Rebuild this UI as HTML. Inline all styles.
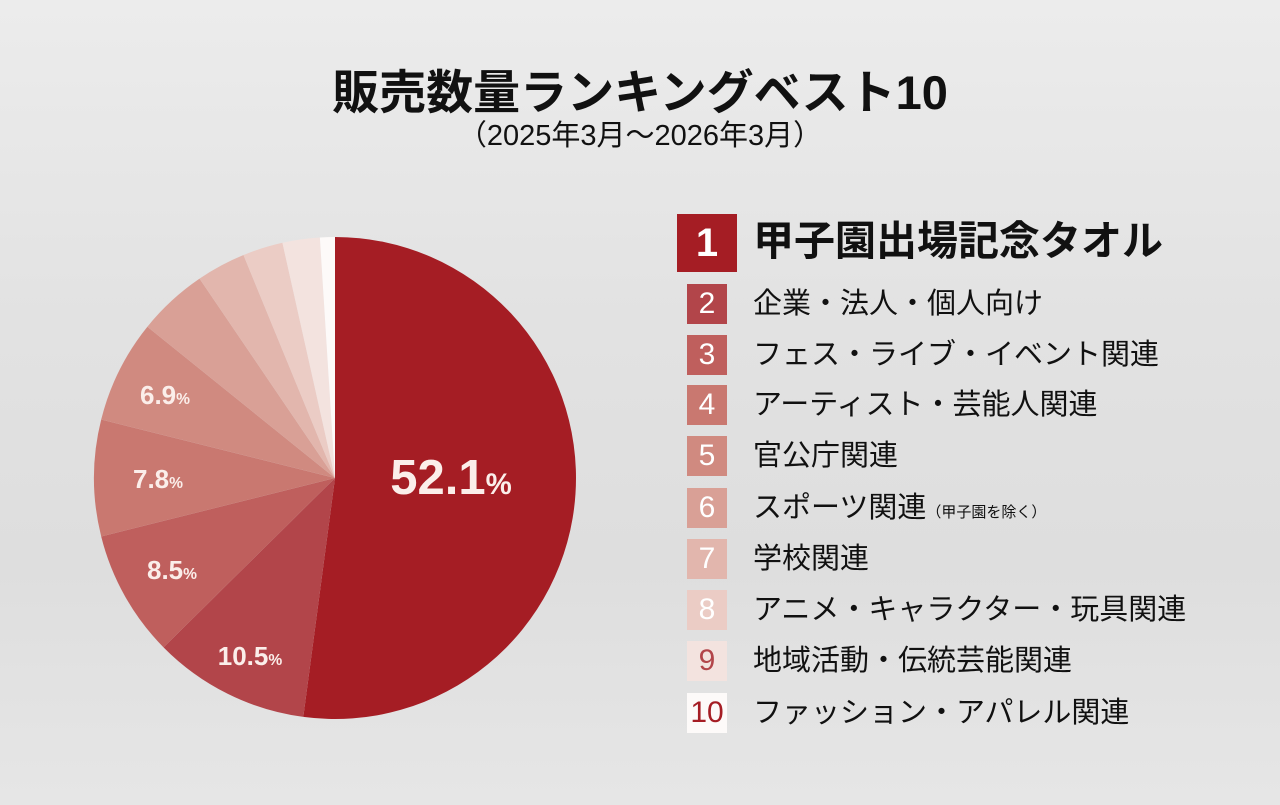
<!DOCTYPE html>
<html><head><meta charset="utf-8"><style>
body{margin:0;width:1280px;height:805px;overflow:hidden;font-family:"Liberation Sans","Noto Sans CJK JP",sans-serif;background:linear-gradient(180deg,#ececec 0%,#e2e2e2 40%,#dedede 70%,#e6e6e6 100%);position:relative}
.t{position:absolute;left:0;width:1280px;text-align:center;color:#111}
.box{position:absolute;left:687px;width:40px;height:40px;color:#fff;font-size:30px;text-align:center;line-height:40px}
.lab{position:absolute;left:753px;font-size:29px;color:#111;line-height:40px;white-space:nowrap}
</style></head><body>
<div class="t" style="top:54px;font-size:47px;font-weight:bold;left:0px">販売数量ランキングベスト10</div>
<div class="t" style="top:112px;font-size:29px;left:0px">（2025年3月～2026年3月）</div>
<svg id="pie" width="1280" height="805" style="position:absolute;left:0;top:0"></svg>
<div class="box" style="left:677px;top:214px;width:60px;height:58px;line-height:58px;background:#a51d24;font-size:40px;font-weight:bold">1</div>
<div class="lab" style="top:221px;font-size:41px;font-weight:bold">甲子園出場記念タオル</div>
<div class="box" style="top:284px;background:#b2454a">2</div><div class="lab" style="top:284px">企業・法人・個人向け</div>
<div class="box" style="top:335px;background:#bf5f5d">3</div><div class="lab" style="top:335px">フェス・ライブ・イベント関連</div>
<div class="box" style="top:385px;background:#c97870">4</div><div class="lab" style="top:385px">アーティスト・芸能人関連</div>
<div class="box" style="top:436px;background:#d08a80">5</div><div class="lab" style="top:436px">官公庁関連</div>
<div class="box" style="top:488px;background:#d9a096">6</div><div class="lab" style="top:488px">スポーツ関連<span style="font-size:15px">（甲子園を除く）</span></div>
<div class="box" style="top:539px;background:#e2b6ad">7</div><div class="lab" style="top:539px">学校関連</div>
<div class="box" style="top:590px;background:#ebccc5">8</div><div class="lab" style="top:590px">アニメ・キャラクター・玩具関連</div>
<div class="box" style="top:641px;background:#f3e3df;color:#b2454a">9</div><div class="lab" style="top:641px">地域活動・伝統芸能関連</div>
<div class="box" style="top:693px;background:#fdfaf9;color:#a51d24">10</div><div class="lab" style="top:693px">ファッション・アパレル関連</div>
<script>
var d=[52.1,10.5,8.5,7.8,6.9,4.7,3.3,2.7,2.5,1.0];
var c=["#a51d24","#b2454a","#bf5f5d","#c97870","#d08a80","#d9a096","#e2b6ad","#ebccc5","#f3e3df","#fdfaf9"];
var cx=335,cy=478,r=241,a=0,s="";
function p(t){return [cx+r*Math.sin(t),cy-r*Math.cos(t)];}
for(var i=0;i<d.length;i++){var b=a+d[i]/100*2*Math.PI;var p1=p(a),p2=p(b);
s+='<path d="M'+cx+','+cy+'L'+p1[0]+','+p1[1]+'A'+r+','+r+' 0 '+(b-a>Math.PI?1:0)+' 1 '+p2[0]+','+p2[1]+'Z" fill="'+c[i]+'"/>';a=b;}
var L=[[451,494,49,"52.1"],[250,665,26,"10.5"],[172,579,26,"8.5"],[158,488,26,"7.8"],[165,404,26,"6.9"]];
L.forEach(function(l){s+='<text x="'+l[0]+'" y="'+l[1]+'" text-anchor="middle" fill="#fbeeea" font-weight="bold" font-size="'+l[2]+'" font-family="Liberation Sans,sans-serif">'+l[3]+'<tspan font-size="'+(l[2]*0.6)+'">%</tspan></text>';});
document.getElementById('pie').innerHTML=s;
</script>
</body></html>
